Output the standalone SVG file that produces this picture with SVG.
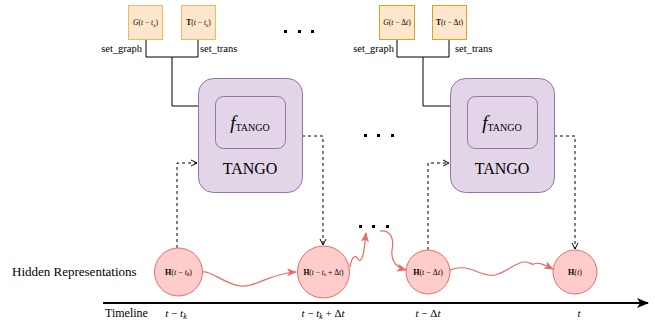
<svg xmlns="http://www.w3.org/2000/svg" width="659" height="322" viewBox="0 0 659 322" font-family="'Liberation Serif','Times New Roman','DejaVu Serif','Noto Serif',serif">
<style>
text{font-family:'Liberation Serif','Times New Roman','DejaVu Serif','Noto Serif',serif;fill:#000}
.in{fill:#ffe6cc;stroke-width:1}
.tango{fill:#e1d5e7;stroke:#9673a6;stroke-width:1}
.circ{fill:#ffcccc;stroke:#ea6b66;stroke-width:1}
.solid{fill:none;stroke:#000;stroke-width:1}
.dash{fill:none;stroke:#000;stroke-width:1;stroke-dasharray:3 3}
.red{fill:none;stroke:#ea6b66;stroke-width:1.2}
.lbl{font-size:10.5px}
.m{font-size:7.5px}
.mh{font-size:8px}
.dot{fill:#000}
</style>
<defs>
<marker id="open" viewBox="0 0 8 8" refX="7" refY="4" markerWidth="8" markerHeight="8" markerUnits="userSpaceOnUse" orient="auto">
<path d="M1,1 L7,4 L1,7" fill="none" stroke="#000" stroke-width="1"/>
</marker>
<marker id="redhead" viewBox="0 0 10 10" refX="9" refY="5" markerWidth="10" markerHeight="10" markerUnits="userSpaceOnUse" orient="auto">
<path d="M0,1 L10,5 L0,9 L2.5,5 Z" fill="#ea6b66"/>
</marker>
<marker id="blk" viewBox="0 0 12 10" refX="11" refY="5" markerWidth="12" markerHeight="10" markerUnits="userSpaceOnUse" orient="auto">
<path d="M0,0 L12,5 L0,10 L3,5 Z" fill="#000"/>
</marker>
</defs>

<g id="connectors">
<path class="solid" d="M146,40 V57 H198 V40"/>
<path class="solid" d="M172,57 V106 H198"/>
<path class="solid" d="M397,40 V57 H449 V40"/>
<path class="solid" d="M423,57 V106 H450"/>
<path class="dash" d="M177,248 V163 H197" marker-end="url(#open)"/>
<path class="dash" d="M302,136 H323 V245" marker-end="url(#open)"/>
<path class="dash" d="M428,250 V163 H449" marker-end="url(#open)"/>
<path class="dash" d="M554,136 H575 V249" marker-end="url(#open)"/>
<path class="red" d="M203,272 C210,270 225,284 240,286 S270,273 296,272" marker-end="url(#redhead)"/>
<path class="red" d="M350,267 C352,255 356,255 358,259 C360,263 363,258 364,250 L366,233" marker-end="url(#redhead)"/>
<path class="red" d="M380,231 C392,230 394,240 392,250 C391,260 395,267 406,270" marker-end="url(#redhead)"/>
<path class="red" d="M450,270 C470,262 480,278 495,275 C508,272 515,262 525,262 C530,262 531,265 534,264 C538,262 543,264 553,269" marker-end="url(#redhead)"/>
<path d="M103,303 H648" fill="none" stroke="#000" stroke-width="2" marker-end="url(#blk)"/>
</g>

<g id="in-g1">
<rect class="in" x="128.5" y="5.5" width="34" height="34" stroke="#f0b860"/>
<text class="m" x="145.5" y="25" text-anchor="middle"><tspan font-style="italic">G</tspan>(<tspan font-style="italic">t</tspan> − <tspan font-style="italic">t</tspan><tspan font-size="5px" font-style="italic" dy="1.5">k</tspan><tspan dy="-1.5">)</tspan></text>
</g>
<g id="in-t1">
<rect class="in" x="181.5" y="5.5" width="34" height="34" stroke="#f0b860"/>
<text class="m" x="198.5" y="25" text-anchor="middle"><tspan font-weight="bold">T</tspan>(<tspan font-style="italic">t</tspan> − <tspan font-style="italic">t</tspan><tspan font-size="5px" font-style="italic" dy="1.5">k</tspan><tspan dy="-1.5">)</tspan></text>
</g>
<g id="in-g2">
<rect class="in" x="379.5" y="5.5" width="35" height="34" stroke="#d6a520"/>
<text class="m" x="397" y="25" text-anchor="middle"><tspan font-style="italic">G</tspan>(<tspan font-style="italic">t</tspan> − Δ<tspan font-style="italic">t</tspan>)</text>
</g>
<g id="in-t2">
<rect class="in" x="432.5" y="5.5" width="34" height="34" stroke="#d6a520"/>
<text class="m" x="449.5" y="25" text-anchor="middle"><tspan font-weight="bold">T</tspan>(<tspan font-style="italic">t</tspan> − Δ<tspan font-style="italic">t</tspan>)</text>
</g>

<g id="labels">
<text class="lbl" x="142" y="52" text-anchor="end">set_graph</text>
<text class="lbl" x="200" y="52">set_trans</text>
<text class="lbl" x="394" y="52" text-anchor="end">set_graph</text>
<text class="lbl" x="455" y="52">set_trans</text>
<text x="12" y="276" font-size="13px">Hidden Representations</text>
<text x="105" y="317" font-size="12px">Timeline</text>
<text x="176" y="317" font-size="11px" text-anchor="middle"><tspan font-style="italic">t</tspan> − <tspan font-style="italic">t</tspan><tspan font-style="italic" font-size="8px" dy="2">k</tspan></text>
<text x="323" y="317" font-size="11px" text-anchor="middle"><tspan font-style="italic">t</tspan> − <tspan font-style="italic">t</tspan><tspan font-style="italic" font-size="8px" dy="2">k</tspan><tspan dy="-2"> + Δ</tspan><tspan font-style="italic">t</tspan></text>
<text x="428" y="317" font-size="11px" text-anchor="middle"><tspan font-style="italic">t</tspan> − Δ<tspan font-style="italic">t</tspan></text>
<text x="579" y="317" font-size="11px" text-anchor="middle" font-style="italic">t</text>
</g>

<g id="tango1">
<rect class="tango" x="198.5" y="78.5" width="104" height="114" rx="15"/>
<rect class="tango" x="215.5" y="96.5" width="70" height="52" rx="8"/>
<text x="250" y="129" text-anchor="middle"><tspan font-style="italic" font-size="19px">f</tspan><tspan font-size="10px" dy="2">TANGO</tspan></text>
<text x="250" y="174" text-anchor="middle" font-size="16px">TANGO</text>
</g>
<g id="tango2">
<rect class="tango" x="450.5" y="78.5" width="104" height="114" rx="15"/>
<rect class="tango" x="467.5" y="96.5" width="70" height="52" rx="8"/>
<text x="502" y="129" text-anchor="middle"><tspan font-style="italic" font-size="19px">f</tspan><tspan font-size="10px" dy="2">TANGO</tspan></text>
<text x="502" y="174" text-anchor="middle" font-size="16px">TANGO</text>
</g>

<g id="h1">
<circle class="circ" cx="178.5" cy="272" r="24"/>
<text class="mh" x="178.5" y="274.5" text-anchor="middle"><tspan font-weight="bold">H</tspan>(<tspan font-style="italic">t</tspan> − <tspan font-style="italic">t</tspan><tspan font-size="5.5px" font-style="italic" dy="1.5">k</tspan><tspan dy="-1.5">)</tspan></text>
</g>
<g id="h2">
<circle class="circ" cx="323.5" cy="272" r="26"/>
<text x="323.5" y="274.5" text-anchor="middle" font-size="7.5px"><tspan font-weight="bold">H</tspan>(<tspan font-style="italic">t</tspan> − <tspan font-style="italic">t</tspan><tspan font-size="5px" font-style="italic" dy="1.5">k</tspan><tspan dy="-1.5"> + Δ</tspan><tspan font-style="italic">t</tspan>)</text>
</g>
<g id="h3">
<circle class="circ" cx="428" cy="272" r="22"/>
<text class="mh" x="428" y="274.5" text-anchor="middle"><tspan font-weight="bold">H</tspan>(<tspan font-style="italic">t</tspan> − Δ<tspan font-style="italic">t</tspan>)</text>
</g>
<g id="h4">
<circle class="circ" cx="575" cy="272" r="22"/>
<text class="mh" x="575" y="274.5" text-anchor="middle"><tspan font-weight="bold">H</tspan>(<tspan font-style="italic">t</tspan>)</text>
</g>

<g id="dots">
<rect class="dot" x="284" y="30" width="3" height="3"/>
<rect class="dot" x="298" y="30" width="3" height="3"/>
<rect class="dot" x="311" y="30" width="3" height="3"/>
<rect class="dot" x="364" y="134" width="3" height="3"/>
<rect class="dot" x="377" y="134" width="3" height="3"/>
<rect class="dot" x="391" y="134" width="3" height="3"/>
<rect class="dot" x="359" y="225" width="3" height="3"/>
<rect class="dot" x="372" y="225" width="3" height="3"/>
<rect class="dot" x="386" y="225" width="3" height="3"/>
</g>
</svg>
